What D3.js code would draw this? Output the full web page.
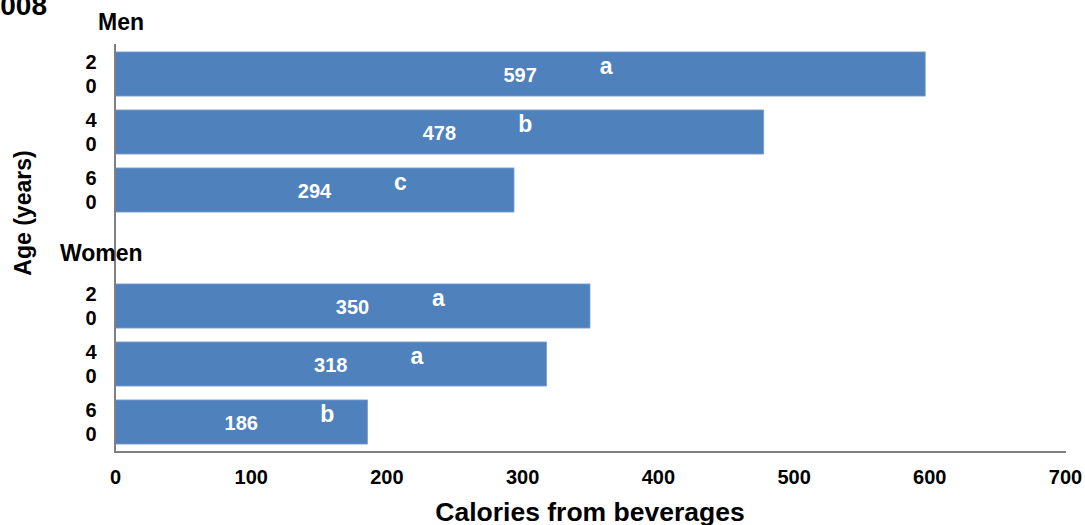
<!DOCTYPE html>
<html>
<head>
<meta charset="utf-8">
<script src="https://cdn.jsdelivr.net/npm/d3@7"></script>
<style>
  html, body { margin: 0; padding: 0; background: #fff; }
  svg { display: block; font-family: "Liberation Sans", Arial, sans-serif; font-weight: bold; }
</style>
</head>
<body>
<svg id="chart" width="1085" height="525"></svg>
<script>
// Rows top to bottom; the "Women" slot is a group header with no bar
const rows = ["M20", "M40", "M60", "Women", "W20", "W40", "W60"];
const barRows = ["M20", "M40", "M60", "W20", "W40", "W60"];
const ageLabels = ["20", "40", "60", "20", "40", "60"];
const calories = [597, 478, 294, 350, 318, 186];
const sigLetters = ["a", "b", "c", "a", "a", "b"];
const xTicks = [0, 100, 200, 300, 400, 500, 600, 700];

const svg = d3.select("#chart");
const plot = { left: 115, right: 1065, top: 45, bottom: 451 };

const x = d3.scaleLinear().domain([0, 700]).range([plot.left, plot.right]);
const y = d3.scaleBand().domain(rows).range([plot.top, plot.bottom]).paddingInner(0.24).paddingOuter(0.12);

const data = barRows.map((r, i) => ({ row: r, age: ageLabels[i], value: calories[i], letter: sigLetters[i] }));

// Bars
svg.selectAll("rect.bar").data(data).join("rect")
  .attr("class", "bar")
  .attr("x", x(0))
  .attr("y", d => y(d.row))
  .attr("width", d => x(d.value) - x(0))
  .attr("height", y.bandwidth())
  .attr("fill", "#4F81BD")
  .attr("stroke", "#7a9fcf")
  .attr("stroke-width", 0.8);

// Value labels centred in each bar
svg.selectAll("text.val").data(data).join("text")
  .attr("class", "val")
  .attr("x", d => (x(0) + x(d.value)) / 2)
  .attr("y", d => y(d.row) + y.bandwidth() / 2 + 8)
  .attr("text-anchor", "middle")
  .attr("fill", "#fff")
  .attr("font-size", 20)
  .text(d => d.value);

// Significance letters
svg.selectAll("text.sig").data(data).join("text")
  .attr("class", "sig")
  .attr("x", d => (x(0) + x(d.value)) / 2 + 86)
  .attr("y", d => y(d.row) + y.bandwidth() / 2)
  .attr("text-anchor", "middle")
  .attr("fill", "#fff")
  .attr("font-size", 23)
  .text(d => d.letter);

// Age tick labels, one digit per line
data.forEach(d => {
  const cy = y(d.row) + y.bandwidth() / 2;
  const t = svg.append("text")
    .attr("x", 91)
    .attr("text-anchor", "middle")
    .attr("font-size", 20)
    .attr("fill", "#000");
  d.age.split("").forEach((ch, k) => {
    t.append("tspan").attr("x", 91).attr("y", cy - 5 + k * 24).text(ch);
  });
});

// Axis lines
svg.append("line")
  .attr("x1", x(0)).attr("x2", x(0))
  .attr("y1", plot.top - 1).attr("y2", plot.bottom + 1)
  .attr("stroke", "#808080").attr("stroke-width", 2);
svg.append("line")
  .attr("x1", x(0) - 1).attr("x2", x(700) + 1)
  .attr("y1", plot.bottom + 1).attr("y2", plot.bottom + 1)
  .attr("stroke", "#808080").attr("stroke-width", 2);

// X axis tick labels
const xAxis = d3.axisBottom(x).tickValues(xTicks).tickSize(0).tickPadding(0);
const gx = svg.append("g").attr("transform", `translate(0,${plot.bottom + 19})`).call(xAxis);
gx.select(".domain").remove();
gx.selectAll("text")
  .attr("font-family", "Liberation Sans, Arial, sans-serif")
  .attr("font-weight", "bold")
  .attr("font-size", 20)
  .attr("fill", "#000");

// Group headers
svg.append("text").attr("x", 98).attr("y", 30).attr("font-size", 23).attr("fill", "#000").text("Men");
svg.append("text").attr("x", 60).attr("y", y("Women") + y.bandwidth() / 2 + 13)
  .attr("font-size", 23).attr("fill", "#000").text("Women");

// Survey period title (partly off the left edge)
svg.append("text").attr("x", 47).attr("y", 15).attr("text-anchor", "end")
  .attr("font-size", 28).attr("fill", "#000").text("2007-2008");

// Axis titles
svg.append("text")
  .attr("transform", "translate(31,213) rotate(-90)")
  .attr("text-anchor", "middle").attr("font-size", 23).attr("fill", "#000")
  .text("Age (years)");
svg.append("text")
  .attr("x", 590).attr("y", 521)
  .attr("text-anchor", "middle").attr("font-size", 26.5).attr("fill", "#000")
  .text("Calories from beverages");
</script>
</body>
</html>
